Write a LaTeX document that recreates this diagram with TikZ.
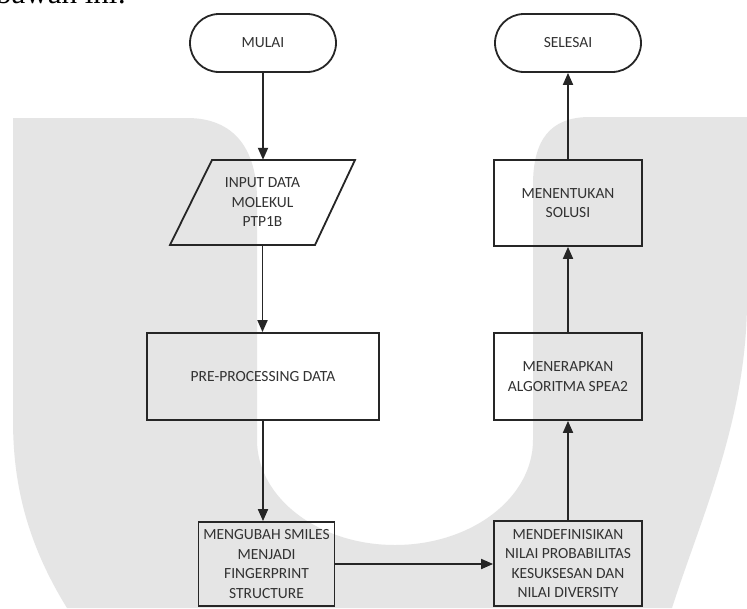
\documentclass[tikz,border=0pt]{standalone}
\usepackage{fontspec}
\setmainfont{Carlito}
\newfontfamily\capserif{Liberation Serif}
\usetikzlibrary{arrows.meta}
\definecolor{wm}{RGB}{229,229,229}
\definecolor{ln}{RGB}{38,38,38}
\definecolor{tx}{RGB}{50,50,50}
\begin{document}
\begin{tikzpicture}[x=1pt,y=-1pt,
  txt/.style={align=center, inner sep=0pt, text=tx, font=\fontsize{15.5}{19.5}\selectfont},
  box/.style={txt, draw=ln, line width=1.8pt},
  term/.style={box, rounded corners=29pt, minimum width=146pt, minimum height=58pt},
  flow/.style={draw=ln, line width=1.8pt, -{Triangle[length=12pt,width=10pt]}},
  shapeline/.style={draw=ln, line width=1.8pt, line join=miter}
]
\useasboundingbox (0,0) rectangle (747,608);
\fill[white] (0,0) rectangle (747,608);
% watermark U
\fill[wm] (13,118) -- (187,118) .. controls (235,118) and (257,150) .. (257,200)
  -- (257,440) arc[start angle=180, end angle=0, x radius=138, y radius=105]
  -- (533,185) .. controls (533,140) and (550,117) .. (590,117) -- (747,117)
  -- (747,300) .. controls (747,420) and (700,520) .. (672,608)
  -- (67,608) .. controls (25,540) and (13,480) .. (13,420) -- cycle;
% clipped caption at the top
\node[anchor=base west, inner sep=0pt, font=\capserif\fontsize{31}{36}\selectfont] (cap) at (-4,3) {bawah ini:};
% nodes
\node[term] (mulai) at (263,43) {MULAI};
\node[term] (selesai) at (568,43) {SELESAI};
\node[txt, minimum width=100pt, minimum height=85pt] (input) at (262.5,202.5) {INPUT DATA\\MOLEKUL\\PTP1B};
\draw[shapeline] (212,160) -- (355,160) -- (315,245) -- (170,245) -- cycle;
\node[box, minimum width=232pt, minimum height=87pt] (pre) at (263,376.5) {PRE-PROCESSING DATA};
\node[box, minimum width=136pt, minimum height=84pt] (ubah) at (266.5,564) {MENGUBAH SMILES\\MENJADI\\FINGERPRINT\\STRUCTURE};
\node[box, minimum width=148pt, minimum height=85pt] (defn) at (568,563.5) {MENDEFINISIKAN\\NILAI PROBABILITAS\\KESUKSESAN DAN\\NILAI DIVERSITY};
\node[box, minimum width=148pt, minimum height=87pt] (terap) at (568,376.5) {MENERAPKAN\\ALGORITMA SPEA2};
\node[box, minimum width=148pt, minimum height=86pt] (tentu) at (568,203) {MENENTUKAN\\SOLUSI};
% connectors
\draw[flow] (mulai.south) -- (mulai.south |- input.north);
\draw[flow] (input.south) -- (input.south |- pre.north);
\draw[flow] (pre.south) -- (pre.south |- ubah.north);
\draw[flow] (ubah.east) -- (ubah.east -| defn.west);
\draw[flow] (defn.north) -- (terap.south);
\draw[flow] (terap.north) -- (tentu.south);
\draw[flow] (tentu.north) -- (selesai.south);
\end{tikzpicture}
\end{document}
